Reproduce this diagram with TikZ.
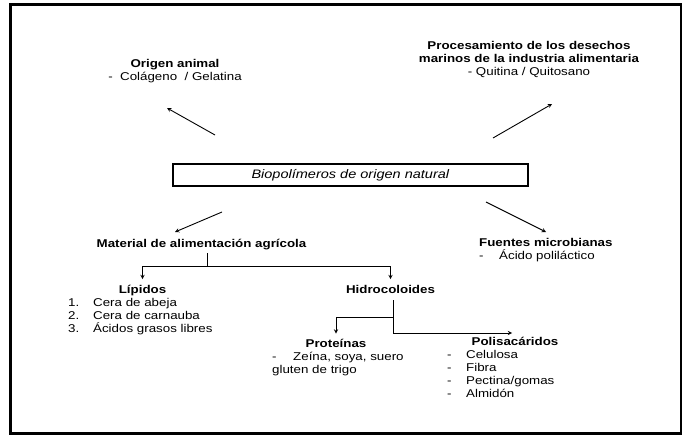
\documentclass[tikz,border=0pt]{standalone}
\usepackage{fontspec}
\setmainfont{Liberation Sans}[FakeStretch=1.18]
\usetikzlibrary{arrows}

\begin{document}
\begin{tikzpicture}[x=1pt, y=-1pt]
        \tikzstyle{box} = [draw=black, line width=1.1pt, minimum width=355pt, minimum height=22pt, inner sep=0pt, font=\fontsize{12.3}{14}\selectfont]
        \tikzstyle{arrow} = [line width=0.9pt, ->, >=stealth]
        \tikzstyle{link} = [line width=0.9pt]
        \tikzstyle{heading} = [inner sep=0pt, anchor=base, font=\fontsize{11.3}{13.3}\selectfont\bfseries]
        \tikzstyle{items} = [inner sep=0pt, align=left, anchor=north west, font=\fontsize{11.3}{13.3}\selectfont]

        \useasboundingbox (0,0) rectangle (683,436);
        \draw [line width=2.8pt] (10.5,4.5) rectangle (681,433.5);

        % Nodes
        \node (animal) [items, anchor=north, align=center] at (175,58.7) {\textbf{Origen animal}\\-\ \ Colágeno \ / Gelatina};
        \node (marine) [items, anchor=north, align=center] at (529,40.7) {\textbf{Procesamiento de los desechos}\\\textbf{marinos de la industria alimentaria}\\- Quitina / Quitosano};
        \node (bio) [box] at (350.5,175) {\textit{Biopolímeros de origen natural}};
        \node (feed) [heading] at (201.5,247) {Material de alimentación agrícola};
        \node (microbe) [items] at (479,237.7) {\textbf{Fuentes microbianas}\\\makebox[20pt][l]{-}Ácido poliláctico};
        \node (lipids) [heading] at (142.5,293) {Lípidos};
        \node (liplist) [items] at (68,297.7) {\makebox[25pt][l]{1.}Cera de abeja\\\makebox[25pt][l]{2.}Cera de carnauba\\\makebox[25pt][l]{3.}Ácidos grasos libres};
        \node (hydro) [heading] at (390.5,293) {Hidrocoloides};
        \node (protein) [heading] at (336,347) {Proteínas};
        \node (protlist) [items] at (272,351.7) {\makebox[21pt][l]{-}Zeína, soya, suero\\gluten de trigo};
        \node (poly) [heading] at (515,345) {Polisacáridos};
        \node (polylist) [items] at (447,349.7) {\makebox[19pt][l]{-}Celulosa\\\makebox[19pt][l]{-}Fibra\\\makebox[19pt][l]{-}Pectina/gomas\\\makebox[19pt][l]{-}Almidón};

        % Arrow ends
        \coordinate (animalfrom) at (215,135);
        \coordinate (animalto) at (167,108);
        \coordinate (marinefrom) at (493,138);
        \coordinate (marineto) at (552,104);
        \coordinate (feedfrom) at (222,212);
        \coordinate (feedto) at (175,232);
        \coordinate (microbefrom) at (486,202);
        \coordinate (microbeto) at (546,232);
        \coordinate (feedfork) at (207,266);
        \coordinate (hydromid) at (393,317);
        \coordinate (hydrofork) at (393,333);
        \coordinate (polyto) at (512,333);

        % Arrows
        \draw [arrow] (animalfrom) -- (animalto);
        \draw [arrow] (marinefrom) -- (marineto);
        \draw [arrow] (feedfrom) -- (feedto);
        \draw [arrow] (microbefrom) -- (microbeto);
        \draw [link, shorten <=3.5pt] (feed.south -| feedfork) -- (feedfork);
        \draw [arrow, shorten >=5.5pt] (feedfork) -| (lipids.north);
        \draw [arrow, shorten >=5.5pt] (feedfork) -| (hydro.north);
        \draw [link, shorten <=7pt] (hydro.south -| hydrofork) -- (hydrofork);
        \draw [arrow, shorten >=5pt] (hydromid) -| (protein.north);
        \draw [arrow] (hydrofork) -- (polyto);

    \end{tikzpicture}
\end{document}
